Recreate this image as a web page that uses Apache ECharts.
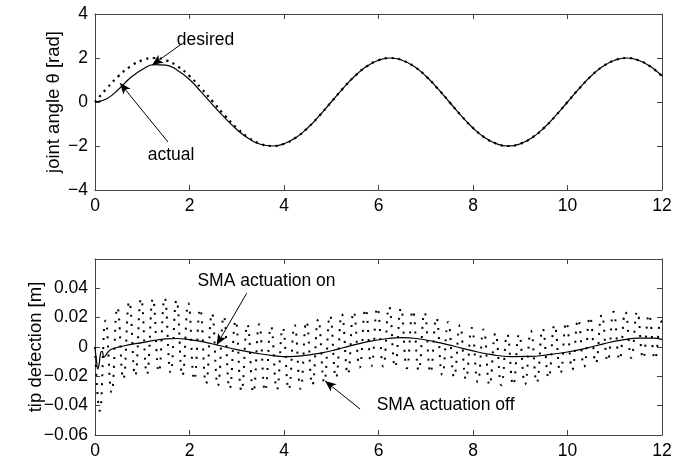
<!DOCTYPE html>
<html>
<head>
<meta charset="utf-8">
<script src="https://cdn.jsdelivr.net/npm/echarts@6/dist/echarts.min.js"></script>
<style>
  html, body { margin: 0; padding: 0; background: #fff; }
  #chart { width: 688px; height: 464px; }
</style>
</head>
<body>
<div id="chart"></div>
<script>
// top panel: joint angle, sampled every 0.25 s
var angleT = [0,0.25,0.5,0.75,1,1.25,1.5,1.75,2,2.25,2.5,2.75,3,3.25,3.5,3.75,4,4.25,4.5,4.75,
  5,5.25,5.5,5.75,6,6.25,6.5,6.75,7,7.25,7.5,7.75,8,8.25,8.5,8.75,9,9.25,9.5,9.75,
  10,10.25,10.5,10.75,11,11.25,11.5,11.75,12];
var desired = [0,0.62,1.18,1.62,1.9,2,1.9,1.62,1.18,0.62,0,-0.62,-1.18,-1.62,-1.9,-2,-1.9,-1.62,-1.18,-0.62,
  0,0.62,1.18,1.62,1.9,2,1.9,1.62,1.18,0.62,0,-0.62,-1.18,-1.62,-1.9,-2,-1.9,-1.62,-1.18,-0.62,
  0,0.62,1.18,1.62,1.9,2,1.9,1.62,1.18];
var actual = [0,0.15,0.58,1.1,1.48,1.7,1.68,1.43,1.02,0.45,-0.15,-0.72,-1.25,-1.66,-1.92,-2,-1.9,-1.62,-1.18,-0.62,
  0,0.62,1.18,1.62,1.9,2,1.9,1.62,1.18,0.62,0,-0.62,-1.18,-1.62,-1.9,-2,-1.9,-1.62,-1.18,-0.62,
  0,0.62,1.18,1.62,1.9,2,1.9,1.62,1.18];

// bottom panel: SMA on (solid)
var onT = [0,0.03,0.06,0.09,0.12,0.15,0.19,0.24,0.32,0.45,0.6,0.8,1,1.25,1.5,1.75,2,2.3,2.6,3,
  3.4,3.8,4.1,4.5,4.8,5.1,5.4,5.8,6.2,6.5,6.8,7.2,7.6,8,8.4,8.8,9.2,9.6,10,10.4,10.8,11.2,11.5,11.8,12];
var onV = [0,-0.009,-0.015,-0.011,-0.004,-0.003,-0.007,-0.005,-0.002,-0.0005,0.0007,0.002,0.003,0.0045,0.0055,0.0058,0.005,0.0035,0.0012,-0.0018,
  -0.0042,-0.006,-0.0066,-0.0055,-0.004,-0.0018,0.0008,0.0038,0.0058,0.0064,0.0058,0.0035,0.0005,-0.0027,-0.0052,-0.0065,-0.0064,-0.0052,-0.0034,-0.0008,0.0025,0.005,0.0061,0.006,0.0052];

// bottom panel: SMA off (dotted), peaks and troughs of the fast vibration
var offTroughT = [0.1,0.35,0.6,0.85,1.1,1.35,1.6,1.85,2.1,2.35,2.6,2.85,3.1,3.35,3.6,3.85,4.1,4.35,4.6,4.85,
  5.1,5.35,5.6,5.85,6.1,6.35,6.6,6.85,7.1,7.35,7.6,7.85,8.1,8.35,8.6,8.85,9.1,9.35,9.6,9.85,
  10.1,10.35,10.6,10.85,11.1,11.35,11.6,11.85];
var offTroughV = [-0.0435,-0.031,-0.022,-0.0197,-0.0186,-0.017,-0.0175,-0.0197,-0.0225,-0.025,-0.0265,-0.0285,-0.03,-0.031,-0.03,-0.029,-0.029,-0.0285,-0.026,-0.024,
  -0.021,-0.0186,-0.014,-0.013,-0.0133,-0.0138,-0.0145,-0.016,-0.0175,-0.019,-0.0205,-0.022,-0.024,-0.026,-0.026,-0.026,-0.0255,-0.0243,-0.021,-0.018,
  -0.0155,-0.0135,-0.011,-0.0097,-0.0087,-0.0075,-0.0078,-0.0082];
var offPeakT = [0.225,0.475,0.725,0.975,1.225,1.475,1.725,1.975,2.225,2.475,2.725,2.975,3.225,3.475,3.725,3.975,4.225,4.475,4.725,4.975,
  5.225,5.475,5.725,5.975,6.225,6.475,6.725,6.975,7.225,7.475,7.725,7.975,8.225,8.475,8.725,8.975,9.225,9.475,9.725,9.975,
  10.225,10.475,10.725,10.975,11.225,11.475,11.725,11.975];
var offPeakV = [0.018,0.027,0.031,0.033,0.033,0.0335,0.032,0.03,0.026,0.023,0.021,0.018,0.0155,0.0155,0.014,0.013,0.015,0.0175,0.019,0.0215,
  0.0225,0.024,0.026,0.0268,0.0275,0.0265,0.025,0.0235,0.02,0.017,0.015,0.013,0.012,0.0095,0.0087,0.0086,0.011,0.0125,0.015,0.0168,
  0.0188,0.0205,0.022,0.024,0.024,0.024,0.022,0.018];
var offStart = [0, 0];
var offEnd = [12, 0.012];

// annotations: text [t, value] and arrows [tailT, tailV, tipT, tipV]
var topNotes = [['desired', 2.34, 2.82], ['actual', 1.61, -2.41]];
var topArrows = [[1.80, 2.59, 1.21, 1.68], [1.545, -1.82, 0.53, 0.86]];
var botNotes = [['SMA actuation on', 3.63, 0.045], ['SMA actuation off', 7.42, -0.0395]];
var botArrows = [[3.21, 0.0366, 2.575, 0.0014], [5.61, -0.0423, 4.87, -0.0232]];

function pairs(xs, ys) {
  var out = [];
  for (var i = 0; i < xs.length; i++) out.push([xs[i], ys[i]]);
  return out;
}

var offData = [offStart];
for (var i = 0; i < offTroughT.length; i++) {
  offData.push([offTroughT[i], offTroughV[i]]);
  offData.push([offPeakT[i], offPeakV[i]]);
}
offData.push(offEnd);

var font = 'Liberation Sans, Arial, Helvetica, sans-serif';
var frame = '#444';

function minus(v) {
  return String(v).replace('-', '\u2212');
}
function fmt2(v) {
  if (Math.abs(v) < 1e-9) return '0';
  return minus(v.toFixed(2));
}

function xAx(grid, pos) {
  return {
    type: 'value', gridIndex: grid, position: pos, min: 0, max: 12, interval: 2,
    axisLine: { show: true, onZero: false, lineStyle: { color: frame, width: 1 } },
    axisTick: { show: true, inside: true, length: 5, lineStyle: { color: frame } },
    axisLabel: { show: pos === 'bottom', color: '#000', fontSize: 17.5, fontFamily: font, margin: 7 },
    splitLine: { show: false }
  };
}
function yAx(grid, pos, min, max, step, f, name, gap) {
  return {
    type: 'value', gridIndex: grid, position: pos, min: min, max: max, interval: step,
    name: pos === 'left' ? name : '',
    nameLocation: 'middle', nameGap: gap, nameMoveOverlap: false,
    nameTextStyle: { color: '#000', fontSize: 18.5, fontFamily: font },
    axisLine: { show: true, onZero: false, lineStyle: { color: frame, width: 1 } },
    axisTick: { show: true, inside: true, length: 5, lineStyle: { color: frame } },
    axisLabel: { show: pos === 'left', color: '#000', fontSize: 17.5, fontFamily: font, margin: 7,
      formatter: f, showMaxLabel: grid === 0 },
    splitLine: { show: false }
  };
}

function arrows(list) {
  return {
    silent: true, animation: false,
    symbol: ['none', 'arrow'],
    lineStyle: { color: '#000', width: 1, type: 'solid' },
    itemStyle: { color: '#000' },
    label: { show: false },
    data: list.map(function (a) {
      return [{ coord: [a[0], a[1]] }, { coord: [a[2], a[3]], symbolSize: [7, 11] }];
    })
  };
}
function notes(list) {
  return {
    silent: true, animation: false,
    symbol: 'rect', symbolSize: 1, itemStyle: { color: 'rgba(0,0,0,0)' },
    label: { show: true, position: 'inside', formatter: '{b}', color: '#000', fontSize: 17.5, fontFamily: font },
    data: list.map(function (n) { return { name: n[0], coord: [n[1], n[2]] }; })
  };
}

var chart = echarts.init(document.getElementById('chart'));
chart.setOption({
  animation: false,
  backgroundColor: '#fff',
  grid: [
    { left: 95, top: 14, width: 567, height: 176 },
    { left: 95, top: 259, width: 567, height: 176 }
  ],
  xAxis: [xAx(0, 'bottom'), xAx(0, 'top'), xAx(1, 'bottom'), xAx(1, 'top')],
  yAxis: [
    yAx(0, 'left', -4, 4, 2, minus, 'joint angle \u03b8 [rad]', 32),
    yAx(0, 'right', -4, 4, 2, minus, '', 0),
    yAx(1, 'left', -0.06, 0.06, 0.02, fmt2, 'tip defection [m]', 50),
    yAx(1, 'right', -0.06, 0.06, 0.02, fmt2, '', 0)
  ],
  series: [
    {
      name: 'desired', type: 'line', xAxisIndex: 0, yAxisIndex: 0,
      data: pairs(angleT, desired), smooth: true, showSymbol: false,
      lineStyle: { color: '#000', width: 2.2, type: [2.2, 4.6] }
    },
    {
      name: 'actual', type: 'line', xAxisIndex: 0, yAxisIndex: 0,
      data: pairs(angleT, actual), smooth: true, showSymbol: false,
      lineStyle: { color: '#000', width: 1.2 },
      markLine: arrows(topArrows), markPoint: notes(topNotes)
    },
    {
      name: 'SMA off', type: 'line', xAxisIndex: 2, yAxisIndex: 2,
      data: offData, smooth: true, showSymbol: false,
      lineStyle: { color: '#000', width: 2, type: [2, 7] }
    },
    {
      name: 'SMA on', type: 'line', xAxisIndex: 2, yAxisIndex: 2,
      data: pairs(onT, onV), smooth: true, showSymbol: false,
      lineStyle: { color: '#000', width: 1.2 },
      markLine: arrows(botArrows), markPoint: notes(botNotes)
    }
  ]
});
</script>
</body>
</html>
